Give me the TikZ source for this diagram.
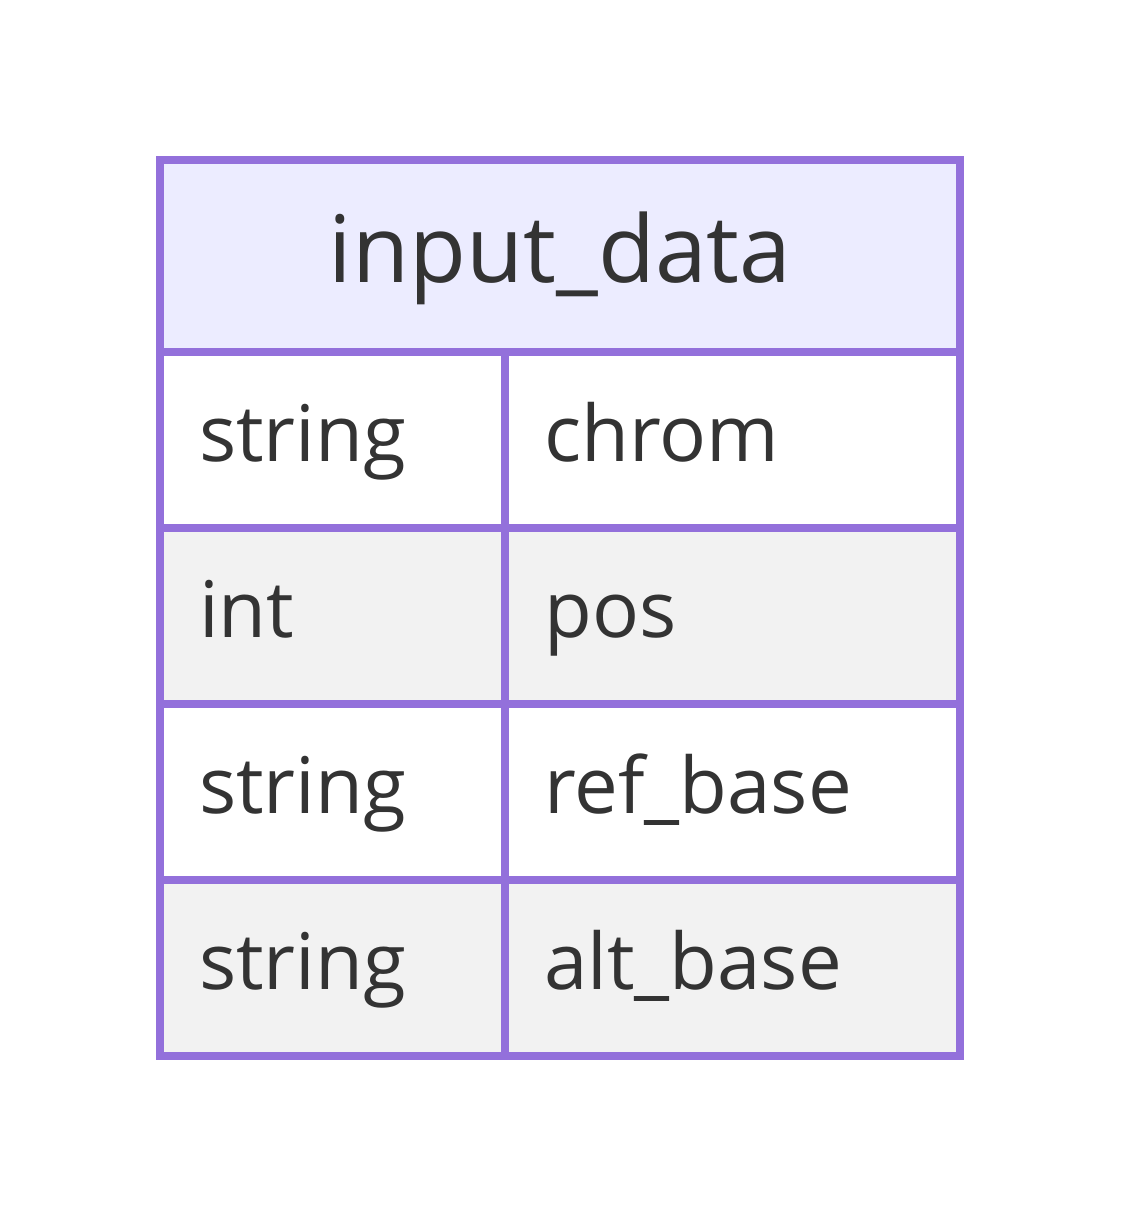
\documentclass[tikz,border=0pt]{standalone}
\usepackage{fontspec}
\setmainfont{Open Sans}
\definecolor{bordc}{HTML}{9370DB}
\definecolor{headc}{HTML}{ECECFF}
\definecolor{altc}{HTML}{F2F2F2}
\definecolor{txtc}{HTML}{333333}
\tikzset{
  grid line/.style={draw=bordc, line width=8pt},
  cell text/.style={anchor=base west, inner sep=0pt, text=txtc, font=\fontsize{78}{94}\selectfont},
  head text/.style={anchor=base, inner sep=0pt, text=txtc, font=\fontsize{93}{110}\selectfont},
}
\begin{document}
\begin{tikzpicture}[x=1pt,y=-1pt]
\useasboundingbox (0,0) rectangle (1120,1216);
% fills
\fill[headc] (160,160) rectangle (960,352);
\fill[white] (160,352) rectangle (960,528);
\fill[altc] (160,528) rectangle (960,704);
\fill[white] (160,704) rectangle (960,880);
\fill[altc] (160,880) rectangle (960,1056);
% grid
\draw[grid line] (160,352) -- (960,352);
\draw[grid line] (160,528) -- (960,528);
\draw[grid line] (160,704) -- (960,704);
\draw[grid line] (160,880) -- (960,880);
\draw[grid line] (505,352) -- (505,1056);
\draw[grid line] (160,160) rectangle (960,1056);
% texts
\node[head text] (title) at (560,282) {input\_data};
\node[cell text] (t1) at (199,461) {string};
\node[cell text] (n1) at (544,461) {chrom};
\node[cell text] (t2) at (199,637) {int};
\node[cell text] (n2) at (544,637) {pos};
\node[cell text] (t3) at (199,813) {string};
\node[cell text] (n3) at (544,813) {ref\_base};
\node[cell text] (t4) at (199,989) {string};
\node[cell text] (n4) at (544,989) {alt\_base};
\end{tikzpicture}
\end{document}
